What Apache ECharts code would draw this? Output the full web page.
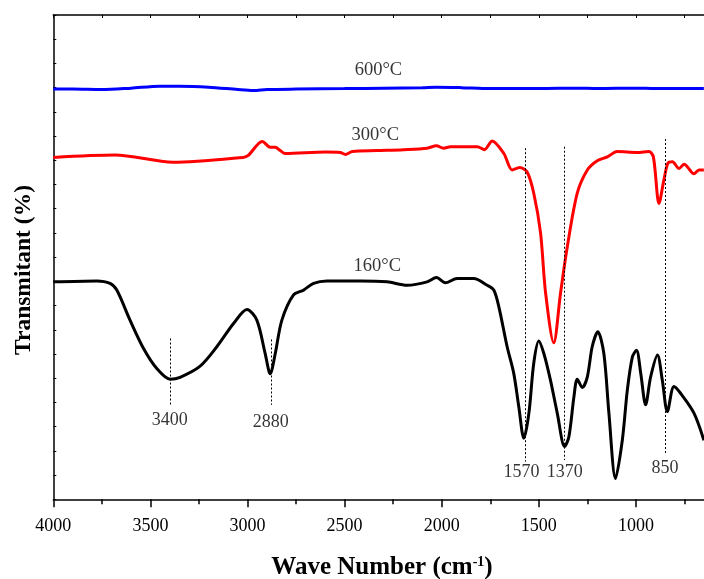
<!DOCTYPE html>
<html>
<head>
<meta charset="utf-8">
<script src="https://cdn.jsdelivr.net/npm/echarts@6/dist/echarts.min.js"></script>
<style>html,body{margin:0;padding:0;background:#fff}#c{width:704px;height:579px}</style>
</head>
<body>
<div id="c"></div>
<script>
// wavenumber (cm-1) and relative transmittance (arbitrary units, 0-100)
var wave600 = [4000,3900,3750,3600,3450,3350,3200,3050,2970,2900,2750,2500,2300,2100,2030,1900,1750,1600,1500,1300,1200,1000,900,800,650];
var t600    = [84.7,84.7,84.6,84.9,85.3,85.3,85.1,84.6,84.4,84.6,84.7,84.8,84.9,85.0,85.1,85.0,84.8,84.8,84.8,84.9,84.8,84.9,84.8,84.8,84.8];

var wave300 = [4000,3682,3383,3022,2996,2924,2883,2857,2831,2806,2599,2522,2496,2460,2333,2197,2075,2027,1991,1955,1817,1780,1740,1680,1637,1598,1560,1526,1491,1465,1423,1388,1353,1302,1250,1199,1147,1096,993,933,910,881,856,835,812,778,752,701,675,650];
var t300    = [70.6,71.1,69.6,70.6,71.0,73.9,72.7,72.7,72.0,71.4,71.7,71.6,71.2,71.8,72.0,72.2,72.5,73.0,72.5,72.8,72.8,72.2,74.0,71.4,68.0,68.5,67.6,63.2,55.0,42.6,32.3,42.6,52.2,63.2,68.0,69.9,70.7,71.8,71.6,71.8,70.7,61.1,65.9,69.4,69.7,68.3,69.2,67.2,68.0,68.0];

var wave160 = [4000,3776,3708,3673,3605,3536,3467,3398,3347,3244,3158,3072,3003,2952,2909,2883,2857,2823,2763,2711,2660,2591,2419,2281,2178,2075,2027,1981,1921,1835,1766,1732,1706,1663,1629,1603,1577,1551,1526,1500,1474,1440,1405,1367,1345,1319,1302,1276,1250,1225,1196,1165,1139,1105,1070,1044,1018,997,975,950,924,889,864,838,804,770,701,650];
var t160    = [44.9,45.1,44.6,43.2,37.0,31.2,27.0,24.8,25.2,27.5,31.5,36.3,39.2,37.0,30.1,25.9,30.1,37.0,42.2,43.2,44.6,45.1,45.1,44.9,44.2,44.9,45.8,44.7,45.6,45.6,44.2,43.2,39.8,31.5,26.0,19.1,12.6,17.8,28.1,32.7,30.1,24.6,17.8,10.9,12.9,21.2,24.8,23.1,25.3,31.5,34.6,30.1,17.8,4.3,12.2,22.6,29.4,30.8,26.0,19.5,25.3,29.8,24.6,18.1,23.3,21.9,17.8,12.2];

var xTicks = [4000,3500,3000,2500,2000,1500,1000];

// peak annotations
var peakWave      = [3400, 2880, 1570, 1370, 850];
var peakTop       = [33.2, 33.0, 72.5, 72.8, 74.4];
var peakBottom    = [19.5, 19.5, 7.8, 8.1, 9.5];
var peakLabelWave = [3400, 2880, 1589, 1366, 850];
var peakLabelY    = [16.3, 15.9, 5.5, 5.5, 6.4];

// series names and label positions
var seriesNames = ['160°C', '300°C', '600°C'];
var seriesLabelWave = [2332, 2342, 2326];
var seriesLabelT = [48.2, 75.2, 88.6];
var seriesColors = ['#000000', '#ff0000', '#0000ff'];

function pairs(xs, ys) { return xs.map(function (x, i) { return [x, ys[i]]; }); }

var font = 'Liberation Serif, Times New Roman, serif';
var curveData = [pairs(wave160, t160), pairs(wave300, t300), pairs(wave600, t600)];

var series = curveData.map(function (d, i) {
  return {
    type: 'line', name: seriesNames[i], data: d, showSymbol: false, symbol: 'none',
    smooth: 0.3,
    lineStyle: { color: seriesColors[i], width: 3 },
    z: 5 - i, silent: true, animation: false
  };
});

series.push({
  type: 'line', data: [], silent: true, animation: false,
  markLine: {
    symbol: 'none', silent: true, animation: false,
    label: { show: false },
    lineStyle: { type: [2, 2], color: '#000', width: 1 },
    data: peakWave.map(function (w, i) { return [{ coord: [w, peakTop[i]] }, { coord: [w, peakBottom[i]] }]; })
  }
});

series.push({
  type: 'scatter', symbolSize: 0, silent: true, animation: false,
  data: peakWave.map(function (w, i) { return [peakLabelWave[i], peakLabelY[i], String(w)]; }),
  label: { show: true, position: 'inside', formatter: function (p) { return p.data[2]; },
           color: '#000', fontFamily: font, fontSize: 18 }
});

series.push({
  type: 'scatter', symbolSize: 0, silent: true, animation: false,
  data: seriesNames.map(function (n, i) { return [seriesLabelWave[i], seriesLabelT[i], n]; }),
  label: { show: true, position: 'inside', formatter: function (p) { return p.data[2]; },
           color: '#000', fontFamily: font, fontSize: 18.5 }
});

var chart = echarts.init(document.getElementById('c'), null, { renderer: 'canvas' });
chart.setOption({
  animation: false,
  backgroundColor: '#fff',
  grid: { left: 53.3, width: 679.7, top: 15, bottom: 79.7, containLabel: false, outerBoundsMode: 'none' },
  graphic: [{
    type: 'text', x: 382, y: 568, silent: true,
    style: {
      text: '{a|Wave Number (cm}{b|-1}{a|)}', align: 'center', verticalAlign: 'middle',
      rich: {
        a: { fontFamily: font, fontSize: 25, fontWeight: 'bold', fill: '#000' },
        b: { fontFamily: font, fontSize: 14, fontWeight: 'bold', fill: '#000', verticalAlign: 'top', padding: [0, 0, 12, 0] }
      }
    }
  }, {
    type: 'text', x: 24, y: 270, rotation: Math.PI / 2, silent: true,
    style: {
      text: 'Transmitant (%)', align: 'center', verticalAlign: 'middle',
      fontFamily: font, fontSize: 23.5, fontWeight: 'bold', fill: '#000'
    }
  }],
  xAxis: [{
    type: 'value', min: 500, max: 4000, interval: 500, inverse: true, position: 'bottom',
    axisLine: { show: true, lineStyle: { color: '#000', width: 1.5 } },
    axisTick: { show: true, inside: false, length: 8, lineStyle: { color: '#000', width: 1.5 } },
    minorTick: { show: true, splitNumber: 2, length: 5, lineStyle: { color: '#000', width: 1.5 } },
    splitLine: { show: false },
    axisLabel: { show: true, color: '#000', fontFamily: font, fontSize: 18, margin: 18,
                 formatter: function (v) { return xTicks.indexOf(v) >= 0 ? String(v) : ''; } }
  }, {
    type: 'value', min: 500, max: 4000, interval: 500, inverse: true, position: 'top',
    axisLine: { show: true, lineStyle: { color: '#000', width: 1.5 } },
    axisTick: { show: true, inside: true, length: 3, lineStyle: { color: '#000', width: 1 } },
    minorTick: { show: true, splitNumber: 2, length: 3, lineStyle: { color: '#000', width: 1 } },
    splitLine: { show: false },
    axisLabel: { show: false }
  }],
  yAxis: {
    type: 'value', min: 0, max: 100, interval: 5,
    axisLine: { show: true, lineStyle: { color: '#000', width: 1.5 } },
    axisTick: { show: true, inside: true, length: 3, lineStyle: { color: '#000', width: 1 } },
    splitLine: { show: false },
    axisLabel: { show: false }
  },
  series: series
});
</script>
</body>
</html>
